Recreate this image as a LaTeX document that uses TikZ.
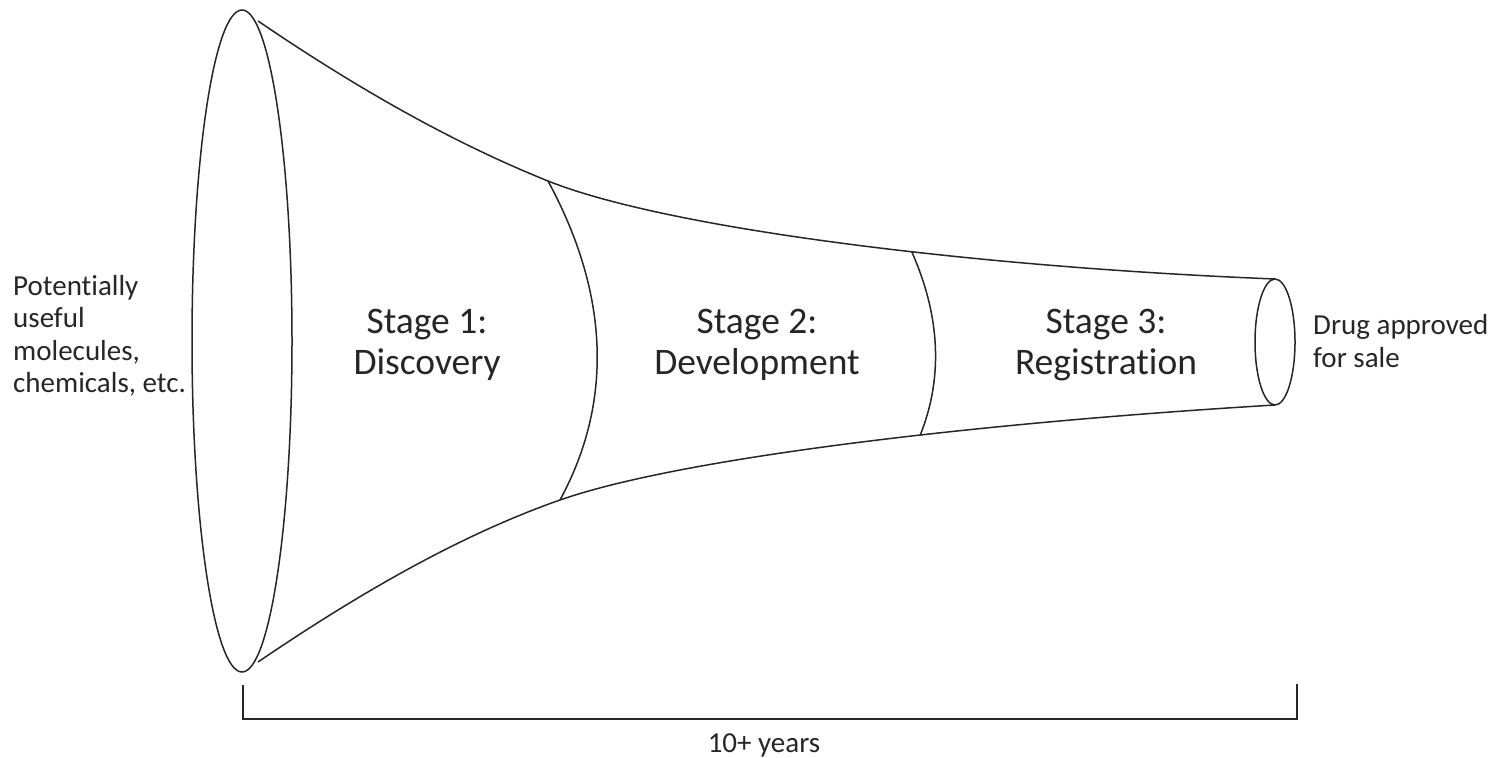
\documentclass[tikz,border=0pt]{standalone}
\usepackage{fontspec}
\setmainfont[Ligatures={NoCommon,NoDiscretionary,NoContextual},Contextuals=NoAlternate]{Carlito}
% keeps "t" and "i" as separate glyphs
\newcommand\tibreak{\kern0pt\relax}
\begin{document}
\begin{tikzpicture}[x=1pt,y=-1pt,
  outline/.style={draw=black!85,line width=1.5pt},
  stagelabel/.style={align=center,font=\fontsize{37.5}{41}\selectfont,text=black!85},
  sidelabel/.style={align=left,font=\fontsize{29}{32.5}\selectfont,text=black!85,inner sep=0pt}]
  \useasboundingbox (0,0) rectangle (1503,757);

  % wide mouth and narrow outlet of the funnel
  \draw[outline] (242,341) ellipse [x radius=50, y radius=331];
  \draw[outline] (1275,342) ellipse [x radius=20, y radius=63];

  % upper wall, with the stage boundaries picked off along it
  \coordinate (t1) at (548,181);
  \draw[outline] (258,21) .. controls (355,87) and (451,142) .. (t1)
    .. controls (668,229) and (975,267) .. (1275,279) coordinate[pos=0.585] (t2);

  % lower wall
  \coordinate (b1) at (560,500);
  \draw[outline] (258,662) .. controls (358,594) and (460,535) .. (b1)
    .. controls (680,458) and (975,423) .. (1275,405) coordinate[pos=0.59] (b2);

  % curved stage boundaries
  \draw[outline] (t1) .. controls (605,286) and (617,395) .. (b1);
  \draw[outline] (t2) .. controls (938,311) and (945,373) .. (b2);

  % stage names
  \node[stagelabel] (s1) at (427,345) {Stage 1:\\Discovery};
  \node[stagelabel] (s2) at (757,345) {Stage 2:\\Development};
  \node[stagelabel] (s3) at (1106,345) {Stage 3:\\Registrat\tibreak ion};

  % input and output descriptions
  \node[sidelabel,anchor=west] (input) at (13,336) {Potent\tibreak ially\\useful\\molecules,\\chemicals, etc.};
  \node[sidelabel,anchor=west] (output) at (1313,341) {Drug approved\\for sale};

  % time span bracket
  \coordinate (bl) at (243,686);
  \coordinate (br) at (1297,685);
  \draw[outline,line cap=rect] (bl) -- (243,719) -- (1297,719) -- (br);
  \node[font=\fontsize{29}{33}\selectfont,text=black!85] (span) at (764,745) {10+ years};
\end{tikzpicture}
\end{document}
